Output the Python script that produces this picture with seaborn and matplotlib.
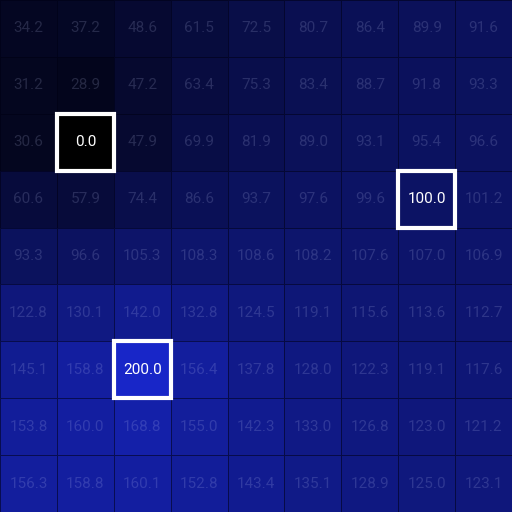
import numpy as np
import pandas as pd
import seaborn as sns
import matplotlib.pyplot as plt
from matplotlib.colors import LinearSegmentedColormap
from matplotlib.patches import Rectangle

""" data """

row0 = [34.2, 37.2, 48.6, 61.5, 72.5, 80.7, 86.4, 89.9, 91.6]
row1 = [31.2, 28.9, 47.2, 63.4, 75.3, 83.4, 88.7, 91.8, 93.3]
row2 = [30.6, 0.0, 47.9, 69.9, 81.9, 89.0, 93.1, 95.4, 96.6]
row3 = [60.6, 57.9, 74.4, 86.6, 93.7, 97.6, 99.6, 100.0, 101.2]
row4 = [93.3, 96.6, 105.3, 108.3, 108.6, 108.2, 107.6, 107.0, 106.9]
row5 = [122.8, 130.1, 142.0, 132.8, 124.5, 119.1, 115.6, 113.6, 112.7]
row6 = [145.1, 158.8, 200.0, 156.4, 137.8, 128.0, 122.3, 119.1, 117.6]
row7 = [153.8, 160.0, 168.8, 155.0, 142.3, 133.0, 126.8, 123.0, 121.2]
row8 = [156.3, 158.8, 160.1, 152.8, 143.4, 135.1, 128.9, 125.0, 123.1]

# cells marked with a white box
highlight_values = [0.0, 100.0, 200.0]

Grid = pd.DataFrame([row0, row1, row2, row3, row4, row5, row6, row7, row8])


""" plot """

plt.style.use('default')
plt.rcParams['font.family'] = ['Roboto', 'DejaVu Sans']

cmap = LinearSegmentedColormap.from_list('blackblue', ['#000000', '#1826c8'])

fig = plt.figure(figsize=(5.12, 5.12), dpi=100)
ax = fig.add_axes([0, 0, 1, 1])

sns.heatmap(Grid, ax=ax, cmap=cmap, vmin=0, vmax=200, cbar=False,
			annot=True, fmt='.1f',
			annot_kws={'fontsize': 11, 'color': (0.8, 0.83, 1.0, 0.17)},
			linewidths=0.7, linecolor=(0.0, 0.0, 0.08, 0.55),
			xticklabels=False, yticklabels=False, square=False)

# white text and box on the marked cells
for txt in ax.texts:
	if float(txt.get_text()) in highlight_values:
		txt.set_color('white')
for r in range(Grid.shape[0]):
	for c in range(Grid.shape[1]):
		if Grid.iloc[r, c] in highlight_values:
			ax.add_patch(Rectangle((c, r), 1, 1, fill=False, edgecolor='white',
								   linewidth=3.0, zorder=5, clip_on=False))

ax.set_xlabel('')
ax.set_ylabel('')

plt.savefig('out.png', dpi=100)
